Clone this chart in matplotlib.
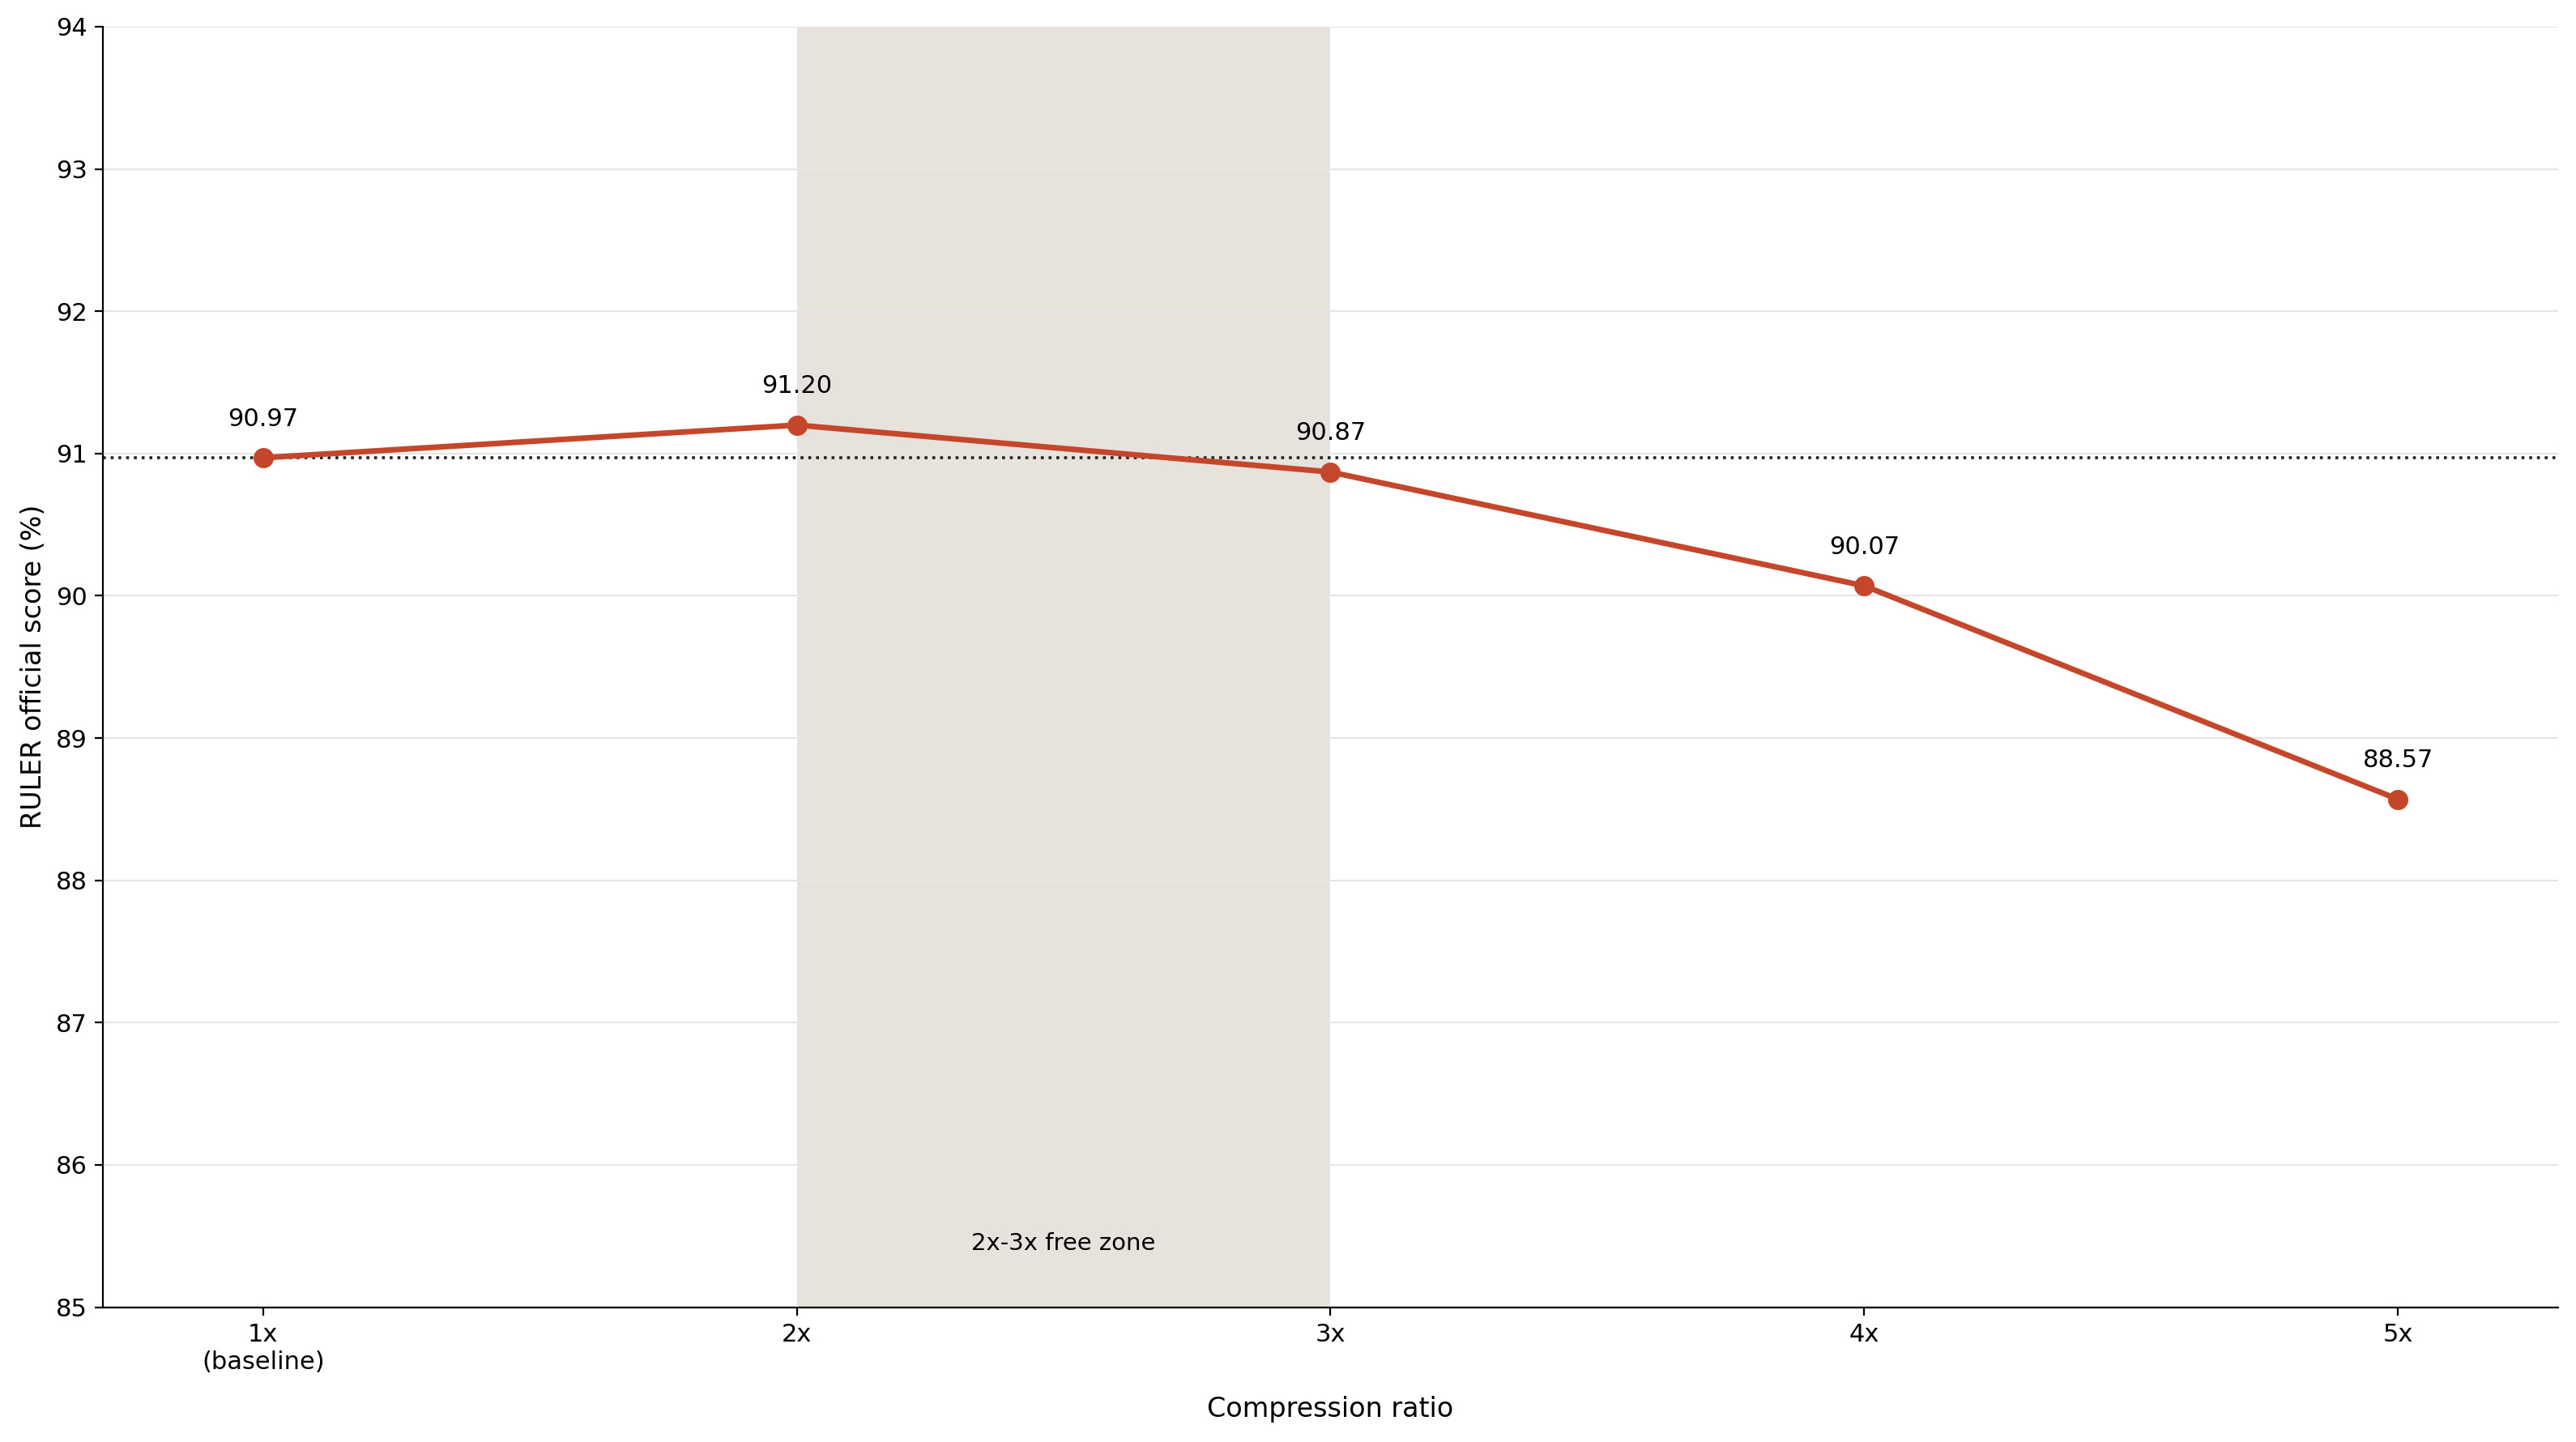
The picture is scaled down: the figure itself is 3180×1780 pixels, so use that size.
import matplotlib
matplotlib.use("Agg")
import matplotlib.pyplot as plt

ratios = [1, 2, 3, 4, 5]
tick_labels = ["1x\n(baseline)", "2x", "3x", "4x", "5x"]
scores = [90.97, 91.20, 90.87, 90.07, 88.57]
baseline = 90.97
color = "#C4472B"

fig = plt.figure(figsize=(15.9, 8.9), dpi=200)
ax = fig.add_axes([0.040, 0.0935, 0.953, 0.888])
ax.axvspan(2, 3, color="#E8E2DC", zorder=0, lw=0)
ax.grid(axis="y", color="#E5E5E5", lw=0.8, zorder=0)
ax.set_axisbelow(True)
ax.axhline(baseline, color="#222222", ls=":", lw=1.3, zorder=2)
ax.plot(ratios, scores, color=color, lw=2.5, marker="o", ms=8, zorder=3)
for x, y in zip(ratios, scores):
    ax.annotate(f"{y:.2f}", (x, y), xytext=(0, 12), textcoords="offset points",
                ha="center", va="bottom", fontsize=11)
ax.text(2.5, 85.45, "2x-3x free zone", ha="center", va="center", fontsize=10.5)
ax.set_xlim(0.7, 5.3)
ax.set_ylim(85, 94)
ax.set_xticks(ratios)
ax.set_xticklabels(tick_labels)
ax.tick_params(labelsize=11)
ax.set_xlabel("Compression ratio", fontsize=12, labelpad=10)
ax.set_ylabel("RULER official score (%)", fontsize=12)
for s in ["top", "right"]:
    ax.spines[s].set_visible(False)
fig.savefig("out.png", dpi=200)
